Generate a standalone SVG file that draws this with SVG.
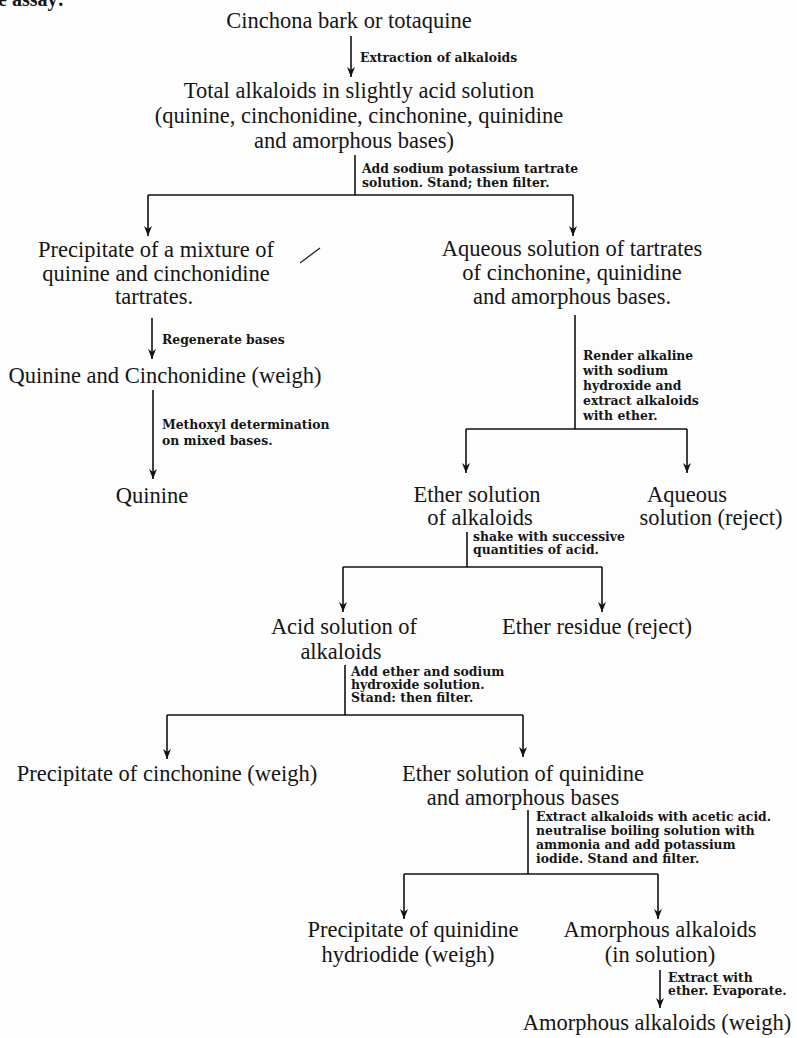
<svg xmlns="http://www.w3.org/2000/svg" width="797" height="1038" viewBox="0 0 797 1038">
<defs>
<marker id="ah" viewBox="0 0 10 8" refX="10" refY="4" markerWidth="10" markerHeight="8" markerUnits="userSpaceOnUse" orient="auto">
<path d="M0,0 L10,4 L0,8 L3,4 z" fill="#111"/>
</marker>
<style>
.n{font-family:"Liberation Serif","Times New Roman",serif;font-size:22.5px;fill:#151515;text-anchor:middle}
.l{font-family:"DejaVu Serif","Liberation Serif",serif;font-weight:bold;font-size:12.4px;fill:#151515}
.c{fill:none;stroke:#111;stroke-width:1.6}
.a{fill:none;stroke:#111;stroke-width:1.6;marker-end:url(#ah)}
</style>
</defs>
<rect width="797" height="1038" fill="#fdfdfd"/>
<text x="-2" y="6" style="font-family:'Liberation Serif',serif;font-weight:bold;font-size:20px;fill:#151515">e assay:</text>
<path d="M300,263 L320,248" stroke="#222" stroke-width="1.3" fill="none"/>

<g id="connectors">
<path class="a" d="M351,36 V77"/>
<path class="c" d="M355,155 V195"/>
<path class="c" d="M148,195 H573"/>
<path class="a" d="M148,195 V236"/>
<path class="a" d="M573,195 V236"/>
<path class="a" d="M152,318 V359"/>
<path class="a" d="M153,390 V479"/>
<path class="c" d="M575,315 V429"/>
<path class="c" d="M466,429 H687"/>
<path class="a" d="M466,429 V473"/>
<path class="a" d="M687,429 V473"/>
<path class="c" d="M467,532 V567"/>
<path class="c" d="M343,567 H602"/>
<path class="a" d="M343,567 V612"/>
<path class="a" d="M602,567 V612"/>
<path class="c" d="M345,665 V715"/>
<path class="c" d="M167,715 H523"/>
<path class="a" d="M167,715 V759"/>
<path class="a" d="M523,715 V757"/>
<path class="c" d="M528,810 V874"/>
<path class="c" d="M404,874 H658"/>
<path class="a" d="M404,874 V919"/>
<path class="a" d="M658,874 V919"/>
<path class="a" d="M660,970 V1008"/>
</g>

<g id="edge-labels">
<text class="l" x="360" y="62">Extraction of alkaloids</text>
<text class="l" x="362" y="173">Add sodium potassium tartrate</text>
<text class="l" x="362" y="187">solution.  Stand;  then filter.</text>
<text class="l" x="162" y="344">Regenerate bases</text>
<text class="l" x="162" y="429">Methoxyl determination</text>
<text class="l" x="162" y="445">on mixed bases.</text>
<text class="l" x="583" y="360">Render alkaline</text>
<text class="l" x="583" y="375">with sodium</text>
<text class="l" x="583" y="390">hydroxide and</text>
<text class="l" x="583" y="405">extract alkaloids</text>
<text class="l" x="583" y="420">with ether.</text>
<text class="l" x="473" y="541">shake with successive</text>
<text class="l" x="473" y="554">quantities of acid.</text>
<text class="l" x="351" y="676">Add ether and sodium</text>
<text class="l" x="351" y="689">hydroxide solution.</text>
<text class="l" x="351" y="702">Stand:  then filter.</text>
<text class="l" x="536" y="821">Extract alkaloids with acetic acid.</text>
<text class="l" x="536" y="835">neutralise boiling solution with</text>
<text class="l" x="536" y="849">ammonia and add potassium</text>
<text class="l" x="536" y="863">iodide.  Stand and filter.</text>
<text class="l" x="668" y="982">Extract with</text>
<text class="l" x="668" y="995">ether. Evaporate.</text>
</g>

<g id="n-bark"><text class="n" x="349" y="28">Cinchona bark or totaquine</text></g>
<g id="n-total">
<text class="n" x="359" y="98">Total alkaloids in slightly acid solution</text>
<text class="n" x="359" y="123">(quinine, cinchonidine, cinchonine, quinidine</text>
<text class="n" x="354" y="148">and amorphous bases)</text>
</g>
<g id="n-precip-tartrates">
<text class="n" x="156" y="257">Precipitate of a mixture of</text>
<text class="n" x="156" y="281">quinine and cinchonidine</text>
<text class="n" x="154" y="304">tartrates.</text>
</g>
<g id="n-aq-tartrates">
<text class="n" x="572" y="256">Aqueous solution of tartrates</text>
<text class="n" x="572" y="280">of cinchonine, quinidine</text>
<text class="n" x="572" y="304">and amorphous bases.</text>
</g>
<g id="n-qc-weigh"><text class="n" x="165" y="383">Quinine and Cinchonidine (weigh)</text></g>
<g id="n-quinine"><text class="n" x="152" y="503">Quinine</text></g>
<g id="n-ether-sol">
<text class="n" x="477" y="502">Ether solution</text>
<text class="n" x="480" y="525">of alkaloids</text>
</g>
<g id="n-aq-reject">
<text class="n" x="687" y="502">Aqueous</text>
<text class="n" x="711" y="525">solution (reject)</text>
</g>
<g id="n-acid-sol">
<text class="n" x="344" y="634">Acid solution of</text>
<text class="n" x="341" y="659">alkaloids</text>
</g>
<g id="n-ether-residue"><text class="n" x="597" y="634">Ether residue (reject)</text></g>
<g id="n-cinchonine"><text class="n" x="167" y="781">Precipitate of cinchonine (weigh)</text></g>
<g id="n-ether-quinidine">
<text class="n" x="523" y="781">Ether solution of quinidine</text>
<text class="n" x="523" y="805">and amorphous bases</text>
</g>
<g id="n-quinidine-hi">
<text class="n" x="413" y="937">Precipitate of quinidine</text>
<text class="n" x="408" y="962">hydriodide (weigh)</text>
</g>
<g id="n-amorph-sol">
<text class="n" x="660" y="937">Amorphous alkaloids</text>
<text class="n" x="660" y="962">(in solution)</text>
</g>
<g id="n-amorph-weigh"><text class="n" x="657" y="1030">Amorphous alkaloids (weigh)</text></g>
</svg>
